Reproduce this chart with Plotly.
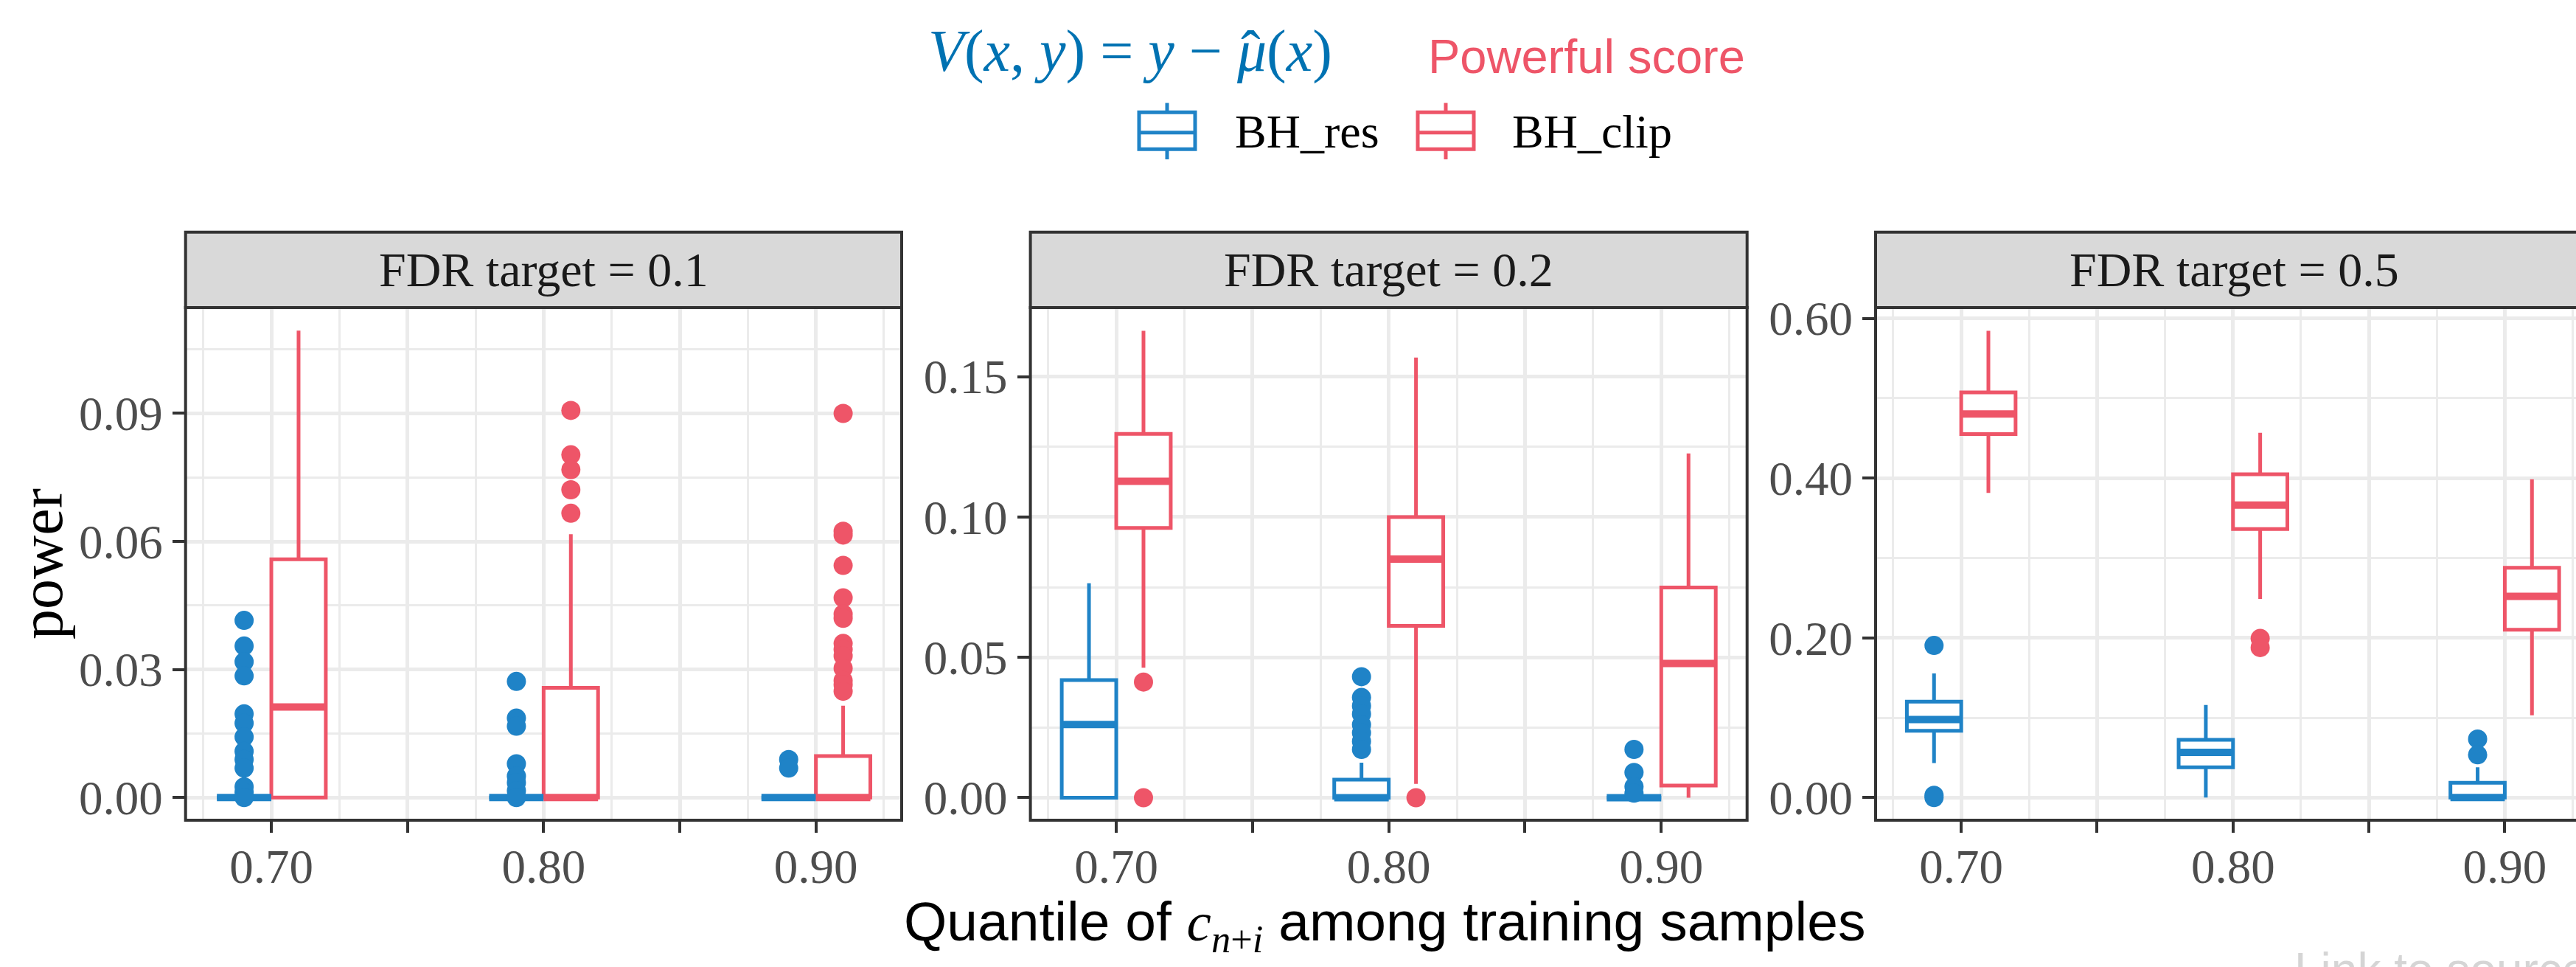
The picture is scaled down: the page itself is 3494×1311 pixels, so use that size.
import plotly.graph_objects as go

# ---------------- data ----------------
quantiles = [0.70, 0.80, 0.90]
quantile_labels = ["0.70", "0.80", "0.90"]
strip_labels = ["FDR target = 0.1", "FDR target = 0.2", "FDR target = 0.5"]
method_names = ["BH_res", "BH_clip"]

# BH_res box statistics: rows = FDR panel, cols = quantile
res_q1 = [[0, 0, 0], [0, 0, 0], [0.0838, 0.038, 0.0]]
res_med = [[0, 0, 0], [0.0261, 0, 0], [0.0978, 0.0567, 0.0]]
res_q3 = [[0, 0, 0], [0.0419, 0.0064, 0], [0.1202, 0.0723, 0.0187]]
res_lo = [[0, 0, 0], [0, 0, 0], [0.0432, 0.0, 0.0]]
res_hi = [[0, 0, 0], [0.0764, 0.0125, 0], [0.1556, 0.116, 0.038]]
res_out = [
    [[0.0415, 0.0355, 0.0318, 0.0285, 0.0196, 0.0174, 0.0142, 0.0108, 0.0089, 0.0069, 0.0025, 0.0012, 0.0],
     [0.0272, 0.0186, 0.0167, 0.0079, 0.005, 0.0035, 0.0016, 0.0],
     [0.0089, 0.0069]],
    [[],
     [0.0431, 0.0357, 0.0327, 0.0298, 0.026, 0.0231, 0.0201, 0.0172],
     [0.0172, 0.009, 0.0039, 0.0016]],
    [[0.1905, 0.003, 0.0], [], [0.0734, 0.0536]],
]

# BH_clip box statistics
clip_q1 = [[0, 0, 0], [0.0961, 0.0612, 0.0043], [0.4553, 0.3362, 0.2102]]
clip_med = [[0.0212, 0, 0], [0.1127, 0.085, 0.0478], [0.4803, 0.3664, 0.2519]]
clip_q3 = [[0.0558, 0.0257, 0.0097], [0.1296, 0.1, 0.0749], [0.5074, 0.4049, 0.2878]]
clip_lo = [[0, 0, 0], [0.0463, 0.0049, 0.0], [0.3815, 0.2488, 0.103]]
clip_hi = [[0.1094, 0.0617, 0.0215], [0.1663, 0.1568, 0.1226], [0.5844, 0.4569, 0.3986]]
clip_out = [
    [[],
     [0.0907, 0.0803, 0.0768, 0.0721, 0.0666],
     [0.09, 0.0624, 0.0615, 0.0544, 0.0468, 0.043, 0.042, 0.0361, 0.0347, 0.0332,
      0.0303, 0.0274, 0.0264, 0.0249]],
    [[0.0412, 0.0], [0.0], []],
    [[], [0.1993, 0.1879], []],
]

# ---------------- styling ----------------
W, H = 3494, 1311
BLUE = "#1F83C7"
RED = "#EE5568"
FORMULA_BLUE = "#0072B2"
SERIF = "Liberation Serif"
SANS = "Liberation Sans"
DARK = "#333333"
GRID = "#EBEBEB"

def px_x(p):
    return p / W

def px_y(p):
    return 1 - p / H

x_domains = [[px_x(251.7), px_x(1223)], [px_x(1397.6), px_x(2369.7)], [px_x(2544), 1.0]]
y_domain = [px_y(1114), px_y(405)]
strip_y = [px_y(405), px_y(300.7)]
x_ranges = [[0.6685, 0.9315], [0.6685, 0.9315], [0.6685, 0.9262]]
y_ranges = [[-0.0053, 0.1148], [-0.0080, 0.1746], [-0.0282, 0.6136]]
y_dticks = [0.03, 0.05, 0.2]

BOX_W = 0.02
OFFSET = 0.01

fig = go.Figure()

methods = [
    (BLUE, -OFFSET, res_q1, res_med, res_q3, res_lo, res_hi, res_out),
    (RED, OFFSET, clip_q1, clip_med, clip_q3, clip_lo, clip_hi, clip_out),
]

for p in range(3):
    xa = "x" if p == 0 else f"x{p+1}"
    ya = "y" if p == 0 else f"y{p+1}"
    for color, off, q1, med, q3, lo, hi, out in methods:
        xs = [q + off for q in quantiles]
        fig.add_trace(go.Box(
            x=xs, q1=q1[p], median=med[p], q3=q3[p],
            lowerfence=lo[p], upperfence=hi[p],
            width=BOX_W, whiskerwidth=0, boxpoints=False,
            line=dict(color=color, width=5), fillcolor="white",
            xaxis=xa, yaxis=ya, showlegend=False, hoverinfo="skip",
        ))
        # thick median line (ggplot fatten)
        mx, my = [], []
        for xc, m in zip(xs, med[p]):
            mx += [xc - BOX_W / 2, xc + BOX_W / 2, None]
            my += [m, m, None]
        fig.add_trace(go.Scatter(
            x=mx, y=my, mode="lines", line=dict(color=color, width=10),
            xaxis=xa, yaxis=ya, showlegend=False, hoverinfo="skip",
        ))
        ox, oy = [], []
        for xc, vals in zip(xs, out[p]):
            ox += [xc] * len(vals)
            oy += vals
        fig.add_trace(go.Scatter(
            x=ox, y=oy, mode="markers",
            marker=dict(color=color, size=26, line=dict(width=0)),
            xaxis=xa, yaxis=ya, showlegend=False, hoverinfo="skip",
        ))

layout = dict(
    width=W, height=H,
    margin=dict(l=0, r=0, t=0, b=0),
    paper_bgcolor="white", plot_bgcolor="white",
    showlegend=False,
    boxmode="overlay",
)

tick_font = dict(family=SERIF, size=65, color="#4D4D4D")
for p in range(3):
    xkey = "xaxis" if p == 0 else f"xaxis{p+1}"
    ykey = "yaxis" if p == 0 else f"yaxis{p+1}"
    yname = "y" if p == 0 else f"y{p+1}"
    xname = "x" if p == 0 else f"x{p+1}"
    layout[xkey] = dict(
        domain=x_domains[p], range=x_ranges[p], anchor=yname,
        tickmode="array",
        tickvals=[0.70, 0.75, 0.80, 0.85, 0.90],
        ticktext=[quantile_labels[0], "", quantile_labels[1], "", quantile_labels[2]],
        ticks="outside", ticklen=16, tickwidth=4, tickcolor=DARK,
        ticklabelstandoff=-10,
        showgrid=True, gridcolor=GRID, gridwidth=5,
        minor=dict(tickmode="array", tickvals=[0.675, 0.725, 0.775, 0.825, 0.875, 0.925],
                   showgrid=True, gridcolor=GRID, gridwidth=2.5, ticks=""),
        zeroline=False, showline=False, tickfont=tick_font, fixedrange=True,
    )
    layout[ykey] = dict(
        domain=y_domain, range=y_ranges[p], anchor=xname,
        tickmode="linear", tick0=0, dtick=y_dticks[p], tickformat=".2f",
        ticks="outside", ticklen=17, tickwidth=4, tickcolor=DARK,
        ticklabelstandoff=0,
        showgrid=True, gridcolor=GRID, gridwidth=5,
        minor=dict(tick0=0, dtick=y_dticks[p] / 2, showgrid=True,
                   gridcolor=GRID, gridwidth=2.5, ticks=""),
        zeroline=False, showline=False, tickfont=tick_font, fixedrange=True,
    )

shapes = []
annotations = []
for p in range(3):
    x0, x1 = x_domains[p]
    if p == 2:
        x1 = 1.01
    # panel border
    shapes.append(dict(type="rect", xref="paper", yref="paper", x0=x0, x1=x1,
                       y0=y_domain[0], y1=y_domain[1],
                       line=dict(color=DARK, width=4), fillcolor="rgba(0,0,0,0)", layer="above"))
    # strip
    shapes.append(dict(type="rect", xref="paper", yref="paper", x0=x0, x1=x1,
                       y0=strip_y[0], y1=strip_y[1],
                       line=dict(color=DARK, width=4), fillcolor="#D9D9D9", layer="above"))
    cx = (x_domains[p][0] + x_domains[p][1]) / 2 if p < 2 else px_x((2544 + 3516) / 2)
    annotations.append(dict(text=strip_labels[p], xref="paper", yref="paper",
                            x=cx, y=(strip_y[0] + strip_y[1]) / 2,
                            xanchor="center", yanchor="middle", showarrow=False,
                            font=dict(family=SERIF, size=66, color="#1A1A1A")))

# axis titles
annotations.append(dict(text="power", xref="paper", yref="paper", x=px_x(57), y=px_y(760),
                        textangle=-90, xanchor="center", yanchor="middle", showarrow=False,
                        font=dict(family=SERIF, size=82, color="black")))
annotations.append(dict(
    text='Quantile of <span style="font-family:Liberation Serif"><i>c</i><sub><i>n</i>+<i>i</i></sub></span> among training samples',
    xref="paper", yref="paper", x=px_x(1878), y=px_y(1259),
    xanchor="center", yanchor="middle", showarrow=False,
    font=dict(family=SANS, size=75, color="black")))

# legend title line
annotations.append(dict(
    text="<i>V</i>(<i>x</i>, <i>y</i>) = <i>y</i> − <i>μ</i>(<i>x</i>)",
    xref="paper", yref="paper", x=px_x(1257), y=px_y(51),
    xanchor="left", yanchor="middle", showarrow=False,
    font=dict(family=SERIF, size=80, color=FORMULA_BLUE)))
annotations.append(dict(
    text="ˆ", xref="paper", yref="paper", x=px_x(1696), y=px_y(51),
    xanchor="center", yanchor="middle", showarrow=False,
    font=dict(family=SERIF, size=80, color=FORMULA_BLUE)))
annotations.append(dict(
    text="Powerful score", xref="paper", yref="paper", x=px_x(1935), y=px_y(58),
    xanchor="left", yanchor="middle", showarrow=False,
    font=dict(family=SANS, size=65, color=RED)))

# legend keys
legend_keys = [(BLUE, 1545, 1621, 1673, method_names[0]), (RED, 1923, 1999, 2049, method_names[1])]
for color, kx0, kx1, tx, label in legend_keys:
    kc = (kx0 + kx1) / 2
    shapes.append(dict(type="rect", xref="paper", yref="paper",
                       x0=px_x(kx0), x1=px_x(kx1), y0=px_y(186), y1=px_y(135),
                       line=dict(color=color, width=5), fillcolor="white"))
    shapes.append(dict(type="line", xref="paper", yref="paper",
                       x0=px_x(kx0), x1=px_x(kx1), y0=px_y(163), y1=px_y(163),
                       line=dict(color=color, width=5)))
    shapes.append(dict(type="line", xref="paper", yref="paper",
                       x0=px_x(kc), x1=px_x(kc), y0=px_y(135), y1=px_y(122),
                       line=dict(color=color, width=5)))
    shapes.append(dict(type="line", xref="paper", yref="paper",
                       x0=px_x(kc), x1=px_x(kc), y0=px_y(186), y1=px_y(200),
                       line=dict(color=color, width=5)))
    annotations.append(dict(text=label, xref="paper", yref="paper", x=px_x(tx), y=px_y(162),
                            xanchor="left", yanchor="middle", showarrow=False,
                            font=dict(family=SERIF, size=64, color="black")))

# faint watermark at bottom right (cut off in the original)
annotations.append(dict(text="Link to source", xref="paper", yref="paper",
                        x=px_x(3110), y=px_y(1282), xanchor="left", yanchor="top",
                        showarrow=False, font=dict(family=SANS, size=64, color="#D5D5D5")))

layout["shapes"] = shapes
layout["annotations"] = annotations
fig.update_layout(**layout)

fig.write_html("out.html")
